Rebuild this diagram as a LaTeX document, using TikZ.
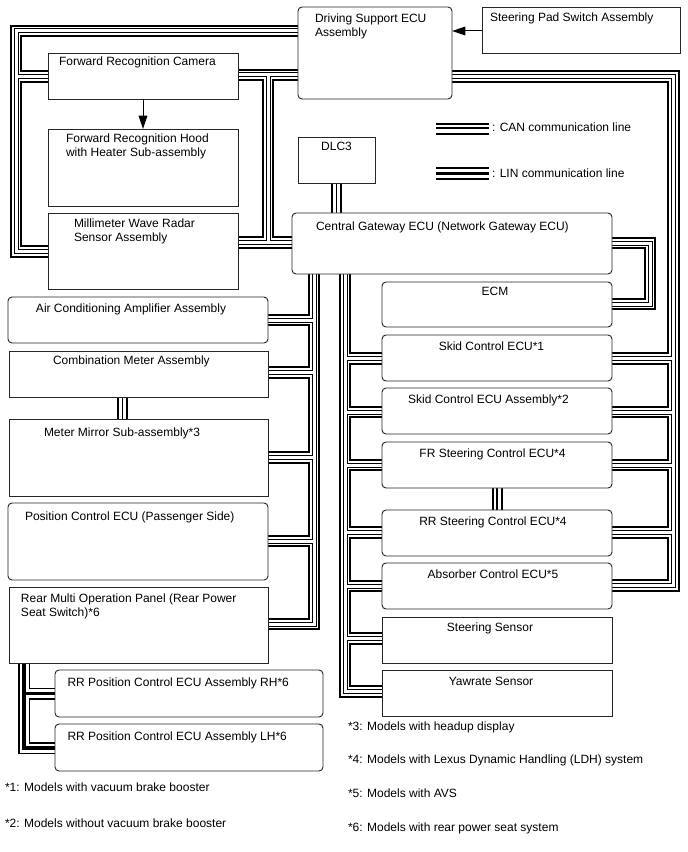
\documentclass[tikz,border=0pt]{standalone}
\usepackage{fontspec}
\setmainfont{Liberation Sans}
\usetikzlibrary{arrows.meta,calc}
\pgfdeclarelayer{bg}
\pgfsetlayers{bg,main}
\newcommand\mkbox[6]{\node[#1, anchor=north west, minimum width={(#5-#3)*0.75pt}, minimum height={(#6-#4)*0.75pt}] (#2) at (#3,#4) {};}
\begin{document}
\begin{tikzpicture}[x=0.75pt,y=-0.75pt,
  box/.style={draw=black!85, line width=0.7pt, fill=white, inner sep=0pt, outer sep=0pt},
  rbox/.style={box, rounded corners=3pt},
  txt/.style={inner sep=0pt, outer sep=0pt, font=\fontsize{9}{10.5}\selectfont, align=left},
  arr/.style={line width=0.75pt, -{Triangle[length=10pt,width=6.5pt]}},
]
\begin{pgfonlayer}{bg}
\fill[white] (0,0) rectangle (688,852);
\end{pgfonlayer}
\useasboundingbox (0,0) rectangle (688,852);

% boxes
\mkbox{rbox}{ds}{298}{7}{452}{99}
\mkbox{box}{sp}{482}{7}{680}{53}
\mkbox{box}{cam}{48}{53}{238}{99}
\mkbox{box}{hood}{48}{129}{238}{206}
\mkbox{box}{mmw}{48}{213}{238}{289}
\mkbox{box}{dlc}{298}{137}{375}{183}
\mkbox{rbox}{gw}{292}{213}{612}{274}
\mkbox{rbox}{ac}{8}{297}{268}{343}
\mkbox{box}{cmb}{9}{351}{268}{397}
\mkbox{box}{mir}{9}{419}{268}{496}
\mkbox{rbox}{pos}{8}{503}{268}{580}
\mkbox{box}{rmp}{9}{587}{268}{663}
\mkbox{rbox}{rrh}{55}{670}{323}{717}
\mkbox{rbox}{rlh}{55}{724}{323}{771}
\mkbox{rbox}{ecm}{382}{282}{612}{327}
\mkbox{rbox}{sk1}{382}{335}{612}{381}
\mkbox{rbox}{sk2}{382}{388}{612}{434}
\mkbox{rbox}{frs}{382}{442}{612}{488}
\mkbox{rbox}{rrs}{382}{510}{612}{556}
\mkbox{rbox}{abs}{382}{563}{612}{609}
\mkbox{box}{ssn}{382}{617}{612}{663}
\mkbox{box}{yaw}{382}{670}{612}{716}

% texts (multi-line nodes: base = last line)
\node[txt, anchor=base west] (tds) at (315,37) {Driving Support ECU\\Assembly};
\node[txt, anchor=base west] (tsp) at (490,22) {Steering Pad Switch Assembly};
\node[txt, anchor=base west] (tcam) at (59,66) {Forward Recognition Camera};
\node[txt, anchor=base west] (thood) at (66,156.5) {Forward Recognition Hood\\with Heater Sub-assembly};
\node[txt, anchor=base west] (tmmw) at (74,242) {Millimeter Wave Radar\\Sensor Assembly};
\node[txt, anchor=base] (tdlc) at (336.5,151) {DLC3};
\node[txt, anchor=base west] (tgw) at (316,231) {Central Gateway ECU (Network Gateway ECU)};
\node[txt, anchor=base west] (tac) at (36,312) {Air Conditioning Amplifier Assembly};
\node[txt, anchor=base west] (tcmb) at (53,364.5) {Combination Meter Assembly};
\node[txt, anchor=base west] (tmir) at (44,436) {Meter Mirror Sub-assembly*3};
\node[txt, anchor=base west] (tpos) at (25,520) {Position Control ECU (Passenger Side)};
\node[txt, anchor=base west] (trmp) at (21,616.5) {Rear Multi Operation Panel (Rear Power\\Seat Switch)*6};
\node[txt, anchor=base west] (trrh) at (67.5,686.5) {RR Position Control ECU Assembly RH*6};
\node[txt, anchor=base west] (trlh) at (67.5,740) {RR Position Control ECU Assembly LH*6};
\node[txt, anchor=base] (tecm) at (495,295) {ECM};
\node[txt, anchor=base] (tsk1) at (491.5,350) {Skid Control ECU*1};
\node[txt, anchor=base] (tsk2) at (488.5,403.5) {Skid Control ECU Assembly*2};
\node[txt, anchor=base] (tfrs) at (492.5,457.5) {FR Steering Control ECU*4};
\node[txt, anchor=base] (trrs) at (493,525.5) {RR Steering Control ECU*4};
\node[txt, anchor=base] (tabs) at (493,578.5) {Absorber Control ECU*5};
\node[txt, anchor=base] (tssn) at (490,631) {Steering Sensor};
\node[txt, anchor=base] (tyaw) at (491,685) {Yawrate Sensor};
\node[txt, anchor=base west] (f1) at (5,791) {*1: Models with vacuum brake booster};
\node[txt, anchor=base west] (f2) at (5,827.5) {*2: Models without vacuum brake booster};
\node[txt, anchor=base west] (f3) at (348,730.5) {*3: Models with headup display};
\node[txt, anchor=base west] (f4) at (348,763) {*4: Models with Lexus Dynamic Handling (LDH) system};
\node[txt, anchor=base west] (f5) at (348,797) {*5: Models with AVS};
\node[txt, anchor=base west] (f6) at (348,831.5) {*6: Models with rear power seat system};

% legend
\coordinate (lgA) at (436,124);
\coordinate (lgB) at (489,124);
\node[txt, anchor=base west] (tcan) at (492,132) {: CAN communication line};
\node[txt, anchor=base west] (tlin) at (492,177.5) {: LIN communication line};
\draw[line width=1.6pt] (lgA) -- (lgB);
\draw[line width=0.8pt] ($(lgA)+(0,4)$) -- ($(lgB)+(0,4)$);
\draw[line width=1.6pt] ($(lgA)+(0,10)$) -- ($(lgB)+(0,10)$);
\draw[line width=0.8pt] ($(lgA)+(0,44)$) -- ($(lgB)+(0,44)$);
\draw[line width=2.6pt] ($(lgA)+(0,49.5)$) -- ($(lgB)+(0,49.5)$);
\draw[line width=0.8pt] ($(lgA)+(0,55)$) -- ($(lgB)+(0,55)$);

% arrows
\draw[arr] (sp.west|-0,31) -- (ds.east|-0,31);
\draw[arr] (cam.south) -- (hood.north);

% bend points
\coordinate (a1) at (16,31);
\coordinate (a2) at (16,251.5);
\coordinate (a3) at (16,76.5);
\coordinate (c1) at (268,75);
\coordinate (c2) at (268,242.5);
\coordinate (e1) at (673.5,76.5);
\coordinate (e2) at (673.5,585.5);
\coordinate (g1) at (650,243);
\coordinate (g2) at (650,304);
\coordinate (h1) at (314,274);
\coordinate (h2) at (314,624);
\coordinate (i1) at (345,274);
\coordinate (i2) at (345,691.5);
\coordinate (j1) at (24,663);
\coordinate (j2) at (24,748);

\def\canpaths{
 (ds.west|-a1) -- (a1) -- (a2) -- (mmw.west|-a2)
 (a3) -- (cam.west|-a3)
 (cam.east|-c1) -- (ds.west|-c1)
 (c1) -- (c2)
 (mmw.east|-c2) -- (gw.west|-c2)
 (ds.east|-e1) -- (e1) -- (e2) -- (abs.east|-e2)
 (673.5,358.5) -- (sk1.east|-0,358.5)
 (673.5,412) -- (sk2.east|-0,412)
 (673.5,465) -- (frs.east|-0,465)
 (673.5,532.5) -- (rrs.east|-0,532.5)
 (gw.east|-g1) -- (g1) -- (g2) -- (ecm.east|-g2)
 (h1) -- (h2) -- (rmp.east|-h2)
 (314,320) -- (ac.east|-0,320)
 (314,372.5) -- (cmb.east|-0,372.5)
 (314,457.5) -- (mir.east|-0,457.5)
 (314,541) -- (pos.east|-0,541)
 (i1) -- (i2) -- (yaw.west|-i2)
 (345,358.5) -- (sk1.west|-0,358.5)
 (345,412) -- (sk2.west|-0,412)
 (345,465) -- (frs.west|-0,465)
 (345,532.5) -- (rrs.west|-0,532.5)
 (345,586) -- (abs.west|-0,586)
 (345,638.5) -- (ssn.west|-0,638.5)
}
\def\stubpaths{
 (dlc.south) -- (dlc.south|-gw.north)
 (cmb.south-|122.5,0) -- (mir.north-|122.5,0)
 (frs.south) -- (rrs.north)
}
\def\linpaths{
 (j1) -- (j2) -- (rlh.west|-j2)
 (24,693.5) -- (rrh.west|-0,693.5)
}
\begin{pgfonlayer}{bg}
\foreach \w/\c in {9.4pt/black, 6.4pt/white, 3.75pt/black, 2.25pt/white}
  {\draw[line width=\w, draw=\c, line join=miter] \canpaths;}
\foreach \w/\c in {8.25pt/black, 5.25pt/white, 0.8pt/black}
  {\draw[line width=\w, draw=\c, line join=miter] \stubpaths;}
\foreach \w/\c in {9pt/black, 6.75pt/white, 2.4pt/black}
  {\draw[line width=\w, draw=\c, line join=miter] \linpaths;}
\end{pgfonlayer}
\end{tikzpicture}
\end{document}
